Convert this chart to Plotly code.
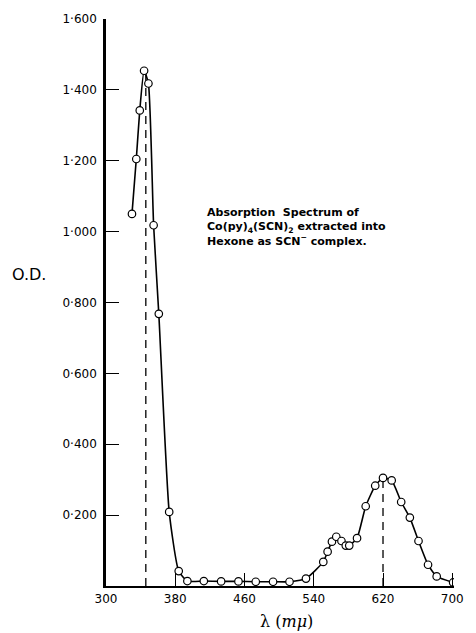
import plotly.graph_objects as go

# Data
wavelength_nm = [330, 335, 339, 344, 349, 355, 361, 373, 384, 394, 413, 433, 453, 473, 493, 512,
                 531, 551, 556, 561, 566, 572, 577, 581, 590, 600, 611, 620, 630, 641, 651, 661,
                 672, 682, 701]
optical_density = [1.050, 1.205, 1.342, 1.454, 1.418, 1.018, 0.768, 0.209, 0.042, 0.014, 0.014,
                   0.013, 0.013, 0.012, 0.012, 0.012, 0.021, 0.068, 0.097, 0.125, 0.139, 0.127,
                   0.114, 0.114, 0.135, 0.225, 0.283, 0.305, 0.298, 0.237, 0.193, 0.127, 0.060,
                   0.027, 0.010]

peak_wavelengths = [346, 620]
peak_od = [1.450, 0.305]

x_tick_vals = [300, 380, 460, 540, 620, 700]
x_tick_text = ["300", "380", "460", "540", "620", "700"]
y_tick_vals = [0.2, 0.4, 0.6, 0.8, 1.0, 1.2, 1.4, 1.6]
y_tick_text = ["0·200", "0·400", "0·600", "0·800", "1·000", "1·200", "1·400", "1·600"]

W, H = 476, 633
ML, MR, MT, MB = 106, 16, 15, 47
PW, PH = W - ML - MR, H - MT - MB


def px_x(px):
    return (px - ML) / PW


def px_y(py):
    return 1 - (py - MT) / PH


fig = go.Figure()

# dashed verticals at the absorption maxima
for lam, od in zip(peak_wavelengths, peak_od):
    fig.add_trace(go.Scatter(
        x=[lam, lam], y=[0, od], mode="lines",
        line=dict(color="black", width=1.3, dash="8px,6px"),
        hoverinfo="skip", showlegend=False))

fig.add_trace(go.Scatter(
    x=wavelength_nm, y=optical_density, mode="lines+markers",
    line=dict(color="black", width=1.6, shape="spline", smoothing=0.5),
    marker=dict(symbol="circle", size=7.5, color="white",
                line=dict(color="black", width=1.2)),
    showlegend=False))

tick_font = dict(family="DejaVu Sans", size=12, color="black")

fig.update_xaxes(
    range=[300, 702], tickvals=x_tick_vals, ticktext=x_tick_text,
    showline=True, linecolor="black", linewidth=2.2,
    ticks="inside", ticklen=13, tickwidth=1.2, tickcolor="black",
    showgrid=False, zeroline=False, tickfont=tick_font, ticklabelstandoff=0)
fig.update_yaxes(
    range=[0, 1.6], tickvals=y_tick_vals, ticktext=y_tick_text,
    showline=True, linecolor="black", linewidth=2.6,
    ticks="inside", ticklen=13, tickwidth=1.4, tickcolor="black",
    showgrid=False, zeroline=False, tickfont=tick_font, ticklabelstandoff=4)

annotations = [
    dict(text="O.D.", x=px_x(8), y=px_y(272), xref="paper", yref="paper",
         xanchor="left", yanchor="middle", showarrow=False,
         font=dict(family="DejaVu Sans", size=16, color="black")),
    dict(text="λ (<i>mμ</i>)", x=px_x(290), y=px_y(622), xref="paper", yref="paper",
         xanchor="center", yanchor="middle", showarrow=False,
         font=dict(family="DejaVu Serif", size=16, color="black")),
    dict(text="<b>Absorption  Spectrum of</b><br>"
              "<b>Co(py)<sub>4</sub>(SCN)<sub>2</sub> extracted into</b><br>"
              "<b>Hexone as SCN<sup>−</sup> complex.</b>",
         x=px_x(207), y=px_y(201), xref="paper", yref="paper",
         xanchor="left", yanchor="top", align="left", showarrow=False,
         font=dict(family="DejaVu Sans", size=11, color="black")),
]

fig.update_layout(
    width=W, height=H,
    margin=dict(l=ML, r=MR, t=MT, b=MB, pad=0),
    paper_bgcolor="white", plot_bgcolor="white",
    annotations=annotations,
    showlegend=False)

fig.write_html("out.html")
